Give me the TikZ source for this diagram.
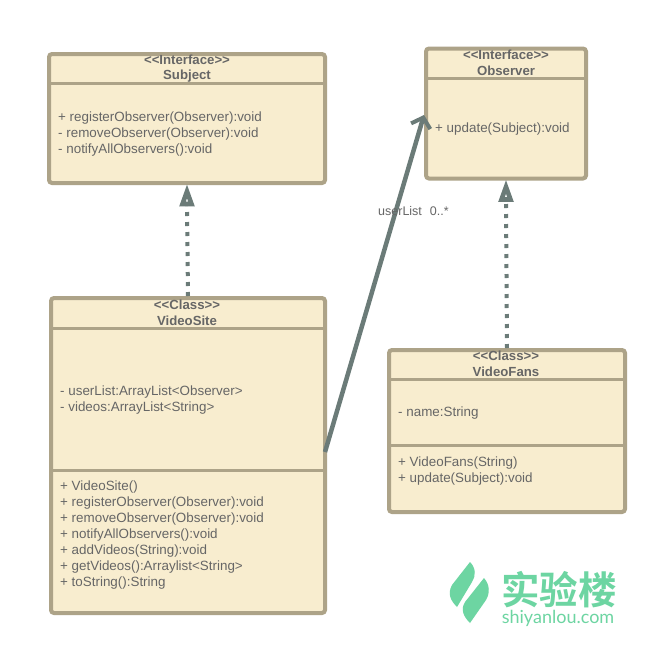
\documentclass[tikz,border=0pt]{standalone}
\usepackage{fontspec}
\setmainfont{Liberation Sans}
\newfontfamily\cjk{Noto Sans CJK SC}[BoldFont=* Bold]
\newfontfamily\logofont{Lato}
\usetikzlibrary{arrows.meta,calc}
\definecolor{boxfill}{HTML}{F8EDCF}
\definecolor{boxedge}{HTML}{ADA388}
\definecolor{linkcol}{HTML}{6B7B78}
\definecolor{txtcol}{HTML}{666666}
\definecolor{logogreen}{HTML}{6DD5A2}
\tikzset{
  x=1pt,y=-1pt,
  umlbox/.style={draw=boxedge,fill=boxfill,line width=4pt,rounded corners=3pt,inner sep=0pt,minimum width=#1},
  divider/.style={draw=boxedge,line width=3pt},
  titletext/.style={text=txtcol,font=\fontsize{13.2}{13}\selectfont\bfseries,inner sep=0pt,anchor=center,align=center},
  membertext/.style={text=txtcol,font=\fontsize{13.4}{16}\selectfont,inner sep=0pt,anchor=west,align=left},
  realize/.style={draw=linkcol,line width=4pt,dash pattern=on 4pt off 6pt},
  tiptri/.style={draw=linkcol,fill=white,line width=4.6pt,miter limit=10},
  assoc/.style={draw=linkcol,line width=4.5pt,-{Straight Barb[length=9pt,width=20pt,line width=4pt]}},
  leaf/.style={fill=logogreen,draw=none}
}
\begin{document}
\begin{tikzpicture}
\path[use as bounding box,fill=white] (0,0) rectangle (657,646);
% boxes
\node[umlbox=276pt,minimum height=129pt] (subject) at (187,118.5) {};
\node[umlbox=160pt,minimum height=130pt] (observer) at (506,113.5) {};
\node[umlbox=274pt,minimum height=315pt] (videosite) at (188,455.5) {};
\node[umlbox=236pt,minimum height=162pt] (videofans) at (507,431) {};
% dividers
\draw[divider] (subject.west |- 0,83) -- (subject.east |- 0,83);
\draw[divider] (observer.west |- 0,78) -- (observer.east |- 0,78);
\draw[divider] (videosite.west |- 0,328) -- (videosite.east |- 0,328);
\draw[divider] (videosite.west |- 0,470) -- (videosite.east |- 0,470);
\draw[divider] (videofans.west |- 0,379) -- (videofans.east |- 0,379);
\draw[divider] (videofans.west |- 0,445) -- (videofans.east |- 0,445);
% titles
\node[titletext] (t1a) at (187,60) {<{}<Interface>{}>};
\node[titletext] (t1b) at (187,76) {Subject};
\node[titletext] (t2a) at (506,55) {<{}<Interface>{}>};
\node[titletext] (t2b) at (506,71) {Observer};
\node[titletext] (t3a) at (187,305) {<{}<Class>{}>};
\node[titletext] (t3b) at (187,321) {VideoSite};
\node[titletext] (t4a) at (506,356) {<{}<Class>{}>};
\node[titletext] (t4b) at (506,372) {VideoFans};
% members
\node[membertext] (m1) at (58,133.8) {+ registerObserver(Observer):void\\- removeObserver(Observer):void\\- notifyAllObservers():void};
\node[membertext] (m2) at (435,128.8) {+ update(Subject):void};
\node[membertext] (m3) at (60,400.3) {- userList:ArrayList<Observer>\\- videos:ArrayList<String>};
\node[membertext] (m4) at (60,535.3) {+ VideoSite()\\+ registerObserver(Observer):void\\+ removeObserver(Observer):void\\+ notifyAllObservers():void\\+ addVideos(String):void\\+ getVideos():Arraylist<String>\\+ toString():String};
\node[membertext] (m5) at (398,412.8) {- name:String};
\node[membertext] (m6) at (398,471.3) {+ VideoFans(String)\\+ update(Subject):void};
% connectors
\draw[realize] (videosite.north) -- ($(subject.south)+(0,21)$);
\draw[realize] (videofans.north) -- ($(observer.south)+(0,21)$);
\draw[tiptri] ($(subject.south)+(0,6.5)$) -- ($(subject.south)+(-4.5,19)$) -- ($(subject.south)+(4.5,19)$) -- cycle;
\draw[tiptri] ($(observer.south)+(0,6.5)$) -- ($(observer.south)+(-4.5,19)$) -- ($(observer.south)+(4.5,19)$) -- cycle;
\draw[assoc] ([xshift=-2pt,yshift=3.5pt]videosite.east) -- ([xshift=0pt,yshift=-1.5pt]observer.west);
\node[inner sep=0pt,text=txtcol,font=\fontsize{12.5}{15}\selectfont,anchor=west] (lbl) at (378,211) {userList\hspace{8pt}0..*};
% logo
\fill[leaf] (470,562) .. controls (476,568) and (476,576) .. (472,582) -- (457,607) .. controls (451,601) and (447,594) .. (452,585) -- cycle;
\fill[leaf] (484,578) .. controls (490,585) and (490,593) .. (486,600) -- (470,623) .. controls (464,617) and (460,610) .. (465,602) -- cycle;
\node[inner sep=0pt,text=logogreen,font=\cjk\bfseries\fontsize{38.5}{38}\selectfont,anchor=center] (logocn) at (559,590) {实验楼};
\node[inner sep=0pt,text=logogreen,font=\logofont\fontsize{18}{18}\selectfont,anchor=center] (logoen) at (558,618) {shiyanlou.com};
\end{tikzpicture}
\end{document}
